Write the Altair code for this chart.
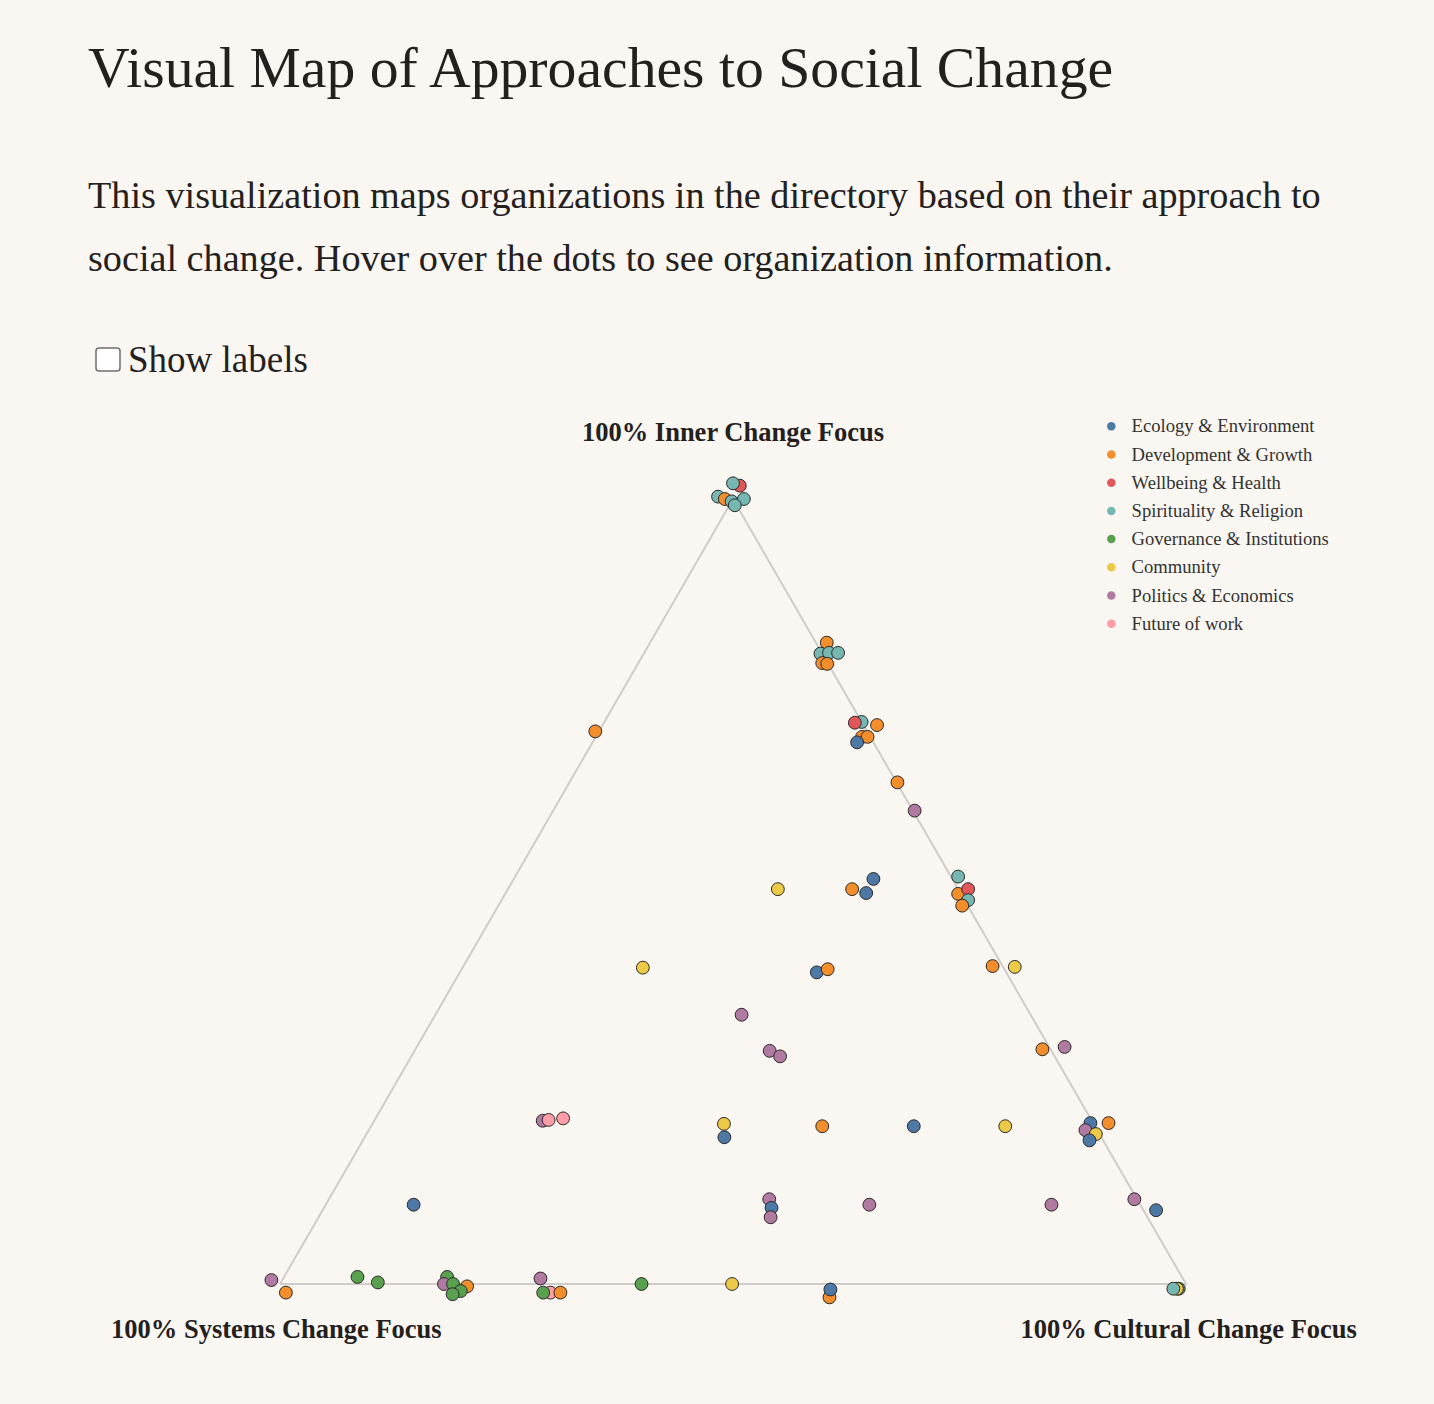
import altair as alt
import pandas as pd

# ---------------- text ----------------
TITLE = "Visual Map of Approaches to Social Change"
DESCRIPTION = [
    "This visualization maps organizations in the directory based on their approach to",
    "social change. Hover over the dots to see organization information.",
]
CHECKBOX_LABEL = "Show labels"
CORNER_LABELS = ["100% Inner Change Focus", "100% Systems Change Focus", "100% Cultural Change Focus"]

# ---------------- categories ----------------
categories = [
    "Ecology & Environment", "Development & Growth", "Wellbeing & Health",
    "Spirituality & Religion", "Governance & Institutions", "Community",
    "Politics & Economics", "Future of work",
]
palette = ["#4e79a7", "#f28e2b", "#e15759", "#76b7b2", "#59a14f", "#edc948", "#b07aa1", "#ff9da7"]
code_to_category = dict(zip(["E", "D", "W", "S", "G", "C", "P", "F"], categories))

# ---------------- organisations (ternary composition, % ; systems = 100 - inner - cultural) ----------------
point_category = [
    "W", "S", "S", "D", "S", "S", "S",
    "D", "S", "S", "S", "D", "D",
    "S", "W", "D", "D", "D", "E",
    "D", "P", "S", "D", "W", "S", "D",
    "C", "D", "E", "E", "D", "C", "E", "D", "D", "C",
    "P", "P", "P", "D", "P", "P", "F", "F",
    "C", "E", "D", "E", "C", "E", "D", "P", "C", "E",
    "P", "P", "E", "G", "C", "S",
    "E", "P", "E", "P", "P",
    "P", "D", "G", "G", "G", "P", "D", "G", "G", "G",
    "P", "F", "D", "G", "G", "C", "D", "E",
]
inner_pct = [
    101.7, 102.0, 100.3, 100.0, 99.7, 100.0, 99.2,
    81.7, 80.3, 80.4, 80.4, 79.1, 79.0,
    71.6, 71.5, 71.2, 69.7, 69.7, 69.0,
    63.9, 60.3, 51.9, 49.7, 50.3, 48.9, 48.2,
    50.3, 50.3, 51.6, 49.8, 70.4, 40.3, 39.7, 40.1, 40.5, 40.4,
    34.3, 29.7, 29.0, 29.9, 30.2, 20.8, 20.9, 21.1,
    20.4, 18.7, 20.1, 20.1, 20.1, 20.5, 20.5, 19.6, 19.1, 18.3,
    10.1, 10.8, 9.4, -0.6, -0.6, -0.6,
    10.1, 10.8, 9.7, 8.5, 10.1,
    0.5, -1.1, 0.9, 0.2, 0.9, 0.0, -0.3, 0.0, -0.9, -1.3,
    0.7, -1.1, -1.1, -1.1, 0.0, 0.0, -1.7, -0.7,
]
cultural_pct = [
    -0.1, -1.0, -1.8, -0.9, 0.0, 1.2, 0.6,
    19.5, 19.5, 20.4, 21.4, 20.3, 20.9,
    28.4, 27.7, 30.3, 29.4, 30.0, 29.2,
    36.2, 39.9, 48.9, 50.0, 50.8, 51.5, 51.2,
    29.8, 38.0, 39.7, 39.8, -0.4, 19.9, 39.4, 40.4, 58.4, 60.9,
    33.8, 39.2, 40.7, 69.2, 71.5, 18.6, 19.2, 20.7,
    38.8, 39.7, 49.8, 59.9, 70.0, 79.2, 81.2, 79.1, 80.5, 80.2,
    80.1, 88.9, 92.0, 99.5, 99.3, 98.9,
    9.7, 48.6, 49.4, 49.9, 60.0,
    -1.2, 1.2, 8.1, 10.7, 18.0, 18.1, 20.8, 19.1, 20.4, 19.7,
    28.4, 30.4, 31.5, 29.6, 39.9, 49.9, 61.5, 61.1,
]

df = pd.DataFrame({
    "category": [code_to_category[c] for c in point_category],
    "inner": inner_pct,
    "cultural": cultural_pct,
})
df["systems"] = 100 - df["inner"] - df["cultural"]
df["x"] = (df["cultural"] + df["inner"] / 2) / 100
df["y"] = df["inner"] / 100
df["o"] = range(len(df))

# ---------------- layout ----------------
W, H = 1434, 1404
FONT = "Liberation Serif"
TEXT = "#24201d"
xs = alt.Scale(domain=[0, 1], range=[280, 1186])
ys = alt.Scale(domain=[0, 1], range=[1284, 499])

tri = pd.DataFrame({"x": [0, 1, 0.5, 0], "y": [0, 0, 1, 0], "o": [0, 1, 2, 3]})
edges = alt.Chart(tri).mark_line(color="#d0ccc7", strokeWidth=2).encode(
    x=alt.X("x:Q", scale=xs, axis=None),
    y=alt.Y("y:Q", scale=ys, axis=None),
    order="o:O",
)

points = alt.Chart(df).mark_circle(size=165, opacity=1, stroke="#2a2a2a", strokeWidth=1).encode(
    x=alt.X("x:Q", scale=xs, axis=None),
    y=alt.Y("y:Q", scale=ys, axis=None),
    order="o:Q",
    color=alt.Color(
        "category:N",
        scale=alt.Scale(domain=categories, range=palette),
        legend=alt.Legend(
            title=None, orient="none", legendX=1102, legendY=417,
            labelFont=FONT, labelFontSize=18.6, labelColor="#333333", labelLimit=0,
            symbolType="circle", symbolSize=72, symbolStrokeWidth=0, symbolOpacity=1,
            rowPadding=9.2, labelOffset=11, padding=0,
        ),
    ),
    tooltip=["category:N", "inner:Q", "cultural:Q", "systems:Q"],
)

top_lab = pd.DataFrame({"text": [CORNER_LABELS[0]], "x": [0.5], "y": [1.0]})
bot_lab = pd.DataFrame({"text": CORNER_LABELS[1:], "x": [-0.004, 1.003], "y": [0.0, 0.0]})
corner_top = alt.Chart(top_lab).mark_text(
    font=FONT, fontSize=26.5, fontWeight="bold", color=TEXT, dy=-66, baseline="middle"
).encode(x=alt.X("x:Q", scale=xs, axis=None), y=alt.Y("y:Q", scale=ys, axis=None), text="text:N")
corner_bot = alt.Chart(bot_lab).mark_text(
    font=FONT, fontSize=26.5, fontWeight="bold", color=TEXT, dy=46, baseline="middle"
).encode(x=alt.X("x:Q", scale=xs, axis=None), y=alt.Y("y:Q", scale=ys, axis=None), text="text:N")


def header_text(text, x, y, size):
    return alt.Chart(pd.DataFrame({"t": [text]})).mark_text(
        font=FONT, fontSize=size, color=TEXT, align="left", baseline="alphabetic"
    ).encode(x=alt.value(x), y=alt.value(y), text="t:N")


title = header_text(TITLE, 88, 87, 57.7)
desc1 = header_text(DESCRIPTION[0], 88, 208, 38.2)
desc2 = header_text(DESCRIPTION[1], 88, 271, 38.2)
cb_label = header_text(CHECKBOX_LABEL, 128, 372, 37)
checkbox = alt.Chart(pd.DataFrame({"t": [CHECKBOX_LABEL]})).mark_rect(
    fill="white", stroke="#6f6f6f", strokeWidth=1.5, cornerRadius=3
).encode(x=alt.value(96), x2=alt.value(120), y=alt.value(348), y2=alt.value(371))

chart = alt.layer(
    edges, points, corner_top, corner_bot, title, desc1, desc2, checkbox, cb_label
).properties(
    width=W, height=H, background="#faf7f2", padding=0,
    autosize=alt.AutoSizeParams(type="none"),
).configure_view(stroke=None)

chart.save("out.html", embed_options={"renderer": "svg", "actions": False})
